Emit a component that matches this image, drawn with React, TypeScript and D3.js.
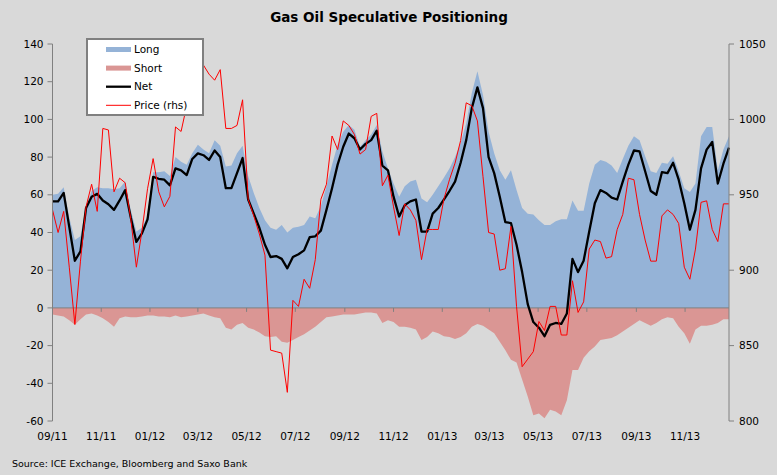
import React from 'react';
import * as d3 from 'd3';

// weekly COT data, first report 2011-09-06
const firstWeek = Date.UTC(2011, 8, 6);

const tickLabels = ['09/11', '11/11', '01/12', '03/12', '05/12', '07/12', '09/12', '11/12', '01/13', '03/13', '05/13', '07/13', '09/13', '11/13'];
const leftTicks = [140, 120, 100, 80, 60, 40, 20, 0, -20, -40, -60];
const rightTicks = [1050, 1000, 950, 900, 850, 800];

const longPos = [
  60, 60.5, 64, 48, 36, 38, 54, 62, 64, 63.5,
  63.5, 63, 63.5, 67, 52, 40.5, 42.5, 49, 72, 72,
  72.5, 70, 80, 77.5, 76, 82, 86.5, 84, 82, 89,
  86, 75, 75.5, 82, 86, 70, 61, 53, 46.5, 42.5,
  41.5, 44, 40, 42.5, 43, 44, 48.5, 47.5, 54, 64.5,
  76, 86.5, 93.5, 97, 94.5, 85.5, 89, 92, 97, 83,
  74, 66, 59, 64.5, 67, 68, 58, 56, 60, 64.5,
  69, 74, 80, 87.5, 98, 114, 125.5, 113, 93.5, 82,
  73, 68, 73, 62.5, 53, 50, 49.5, 46.5, 44, 44,
  46, 47, 47, 57, 51.5, 51.5, 66, 76, 78.5, 77.5,
  75.5, 71.5, 79, 86, 91, 89, 80.5, 72.5, 71.5, 77,
  76.5, 80.5, 72.5, 63.5, 61.5, 66, 91, 96, 96, 73,
  84, 91,
];

const shortPos = [
  -3.5, -4, -4.5, -6.5, -9, -6, -3.5, -3, -4, -5.5,
  -7.5, -10, -5.5, -4.5, -5, -5, -4.5, -4, -4, -4.5,
  -4.5, -5, -4, -5, -4.5, -4, -3.5, -3, -4, -5,
  -5.5, -10.5, -11.5, -9, -8, -10.5, -11.5, -13, -15, -15.5,
  -15, -18, -18.5, -17, -15.5, -14, -12, -10, -7.5, -5,
  -4.5, -4, -3.5, -3.5, -3.5, -3, -2.5, -2.5, -3, -8,
  -6.5, -7.5, -10, -10, -10.5, -11.5, -17, -15.5, -12.5, -13.5,
  -15, -15.5, -16.5, -15.5, -13.5, -10, -8.5, -9.5, -11.5, -13.5,
  -18, -22.5, -27.5, -29, -38, -47, -57, -56, -58.5, -54,
  -55, -57, -49, -33, -33, -26.5, -23, -20.5, -17, -16.5,
  -16, -14.5, -12.5, -10.5, -8.5, -6.5, -8, -9.5, -8, -6,
  -5, -5.5, -10, -13.5, -19, -11.5, -9.5, -9.5, -9, -8,
  -6, -6,
];

const netPos = [
  56.5, 56.5, 61, 43, 25, 30, 53, 59, 60.5, 57,
  55, 52, 57, 62.5, 48, 35, 39.5, 47, 69.5, 68.5,
  68, 65, 74, 73, 70.5, 79, 82, 81, 78.5, 83.5,
  80, 63.5, 63.5, 71.5, 79.5, 57.5, 50, 42.5, 33.5, 27,
  27.5, 26, 21, 27, 28.5, 30.5, 37.5, 38, 41, 52,
  63.5, 76, 85.5, 92.5, 90, 84, 87, 89, 94, 75.5,
  73, 59, 48.5, 54.5, 56.5, 57.5, 40.5, 40.5, 50, 53,
  57.5, 62, 67, 77, 89, 106, 117, 106, 80, 71.5,
  59, 45.5, 45, 33.5, 19, 2, -7.5, -10.5, -15, -9,
  -8, -8.5, -3, 26, 19, 25, 40.5, 55.5, 62.5, 61,
  58.5, 57.5, 67, 76, 83.5, 83, 72.5, 62, 60, 72,
  71.5, 77, 68, 55.5, 41.5, 52, 74, 84, 88, 66,
  76.5, 85,
];

const price = [
  940, 925, 939, 902, 864, 906, 942, 957, 939, 994,
  993, 952, 961, 958, 934, 902, 926, 954, 974, 952,
  942, 949, 995, 992, 1009, 1025, 1037, 1036, 1030, 1026,
  1033, 994, 994, 996, 1013, 947, 936, 924, 910, 847,
  846, 845, 819, 880, 876, 894, 888, 907, 947, 957,
  989, 980, 999, 996, 990, 977, 980, 1002, 1004, 956,
  963, 942, 923, 944, 940, 933, 907, 927, 927, 927,
  947, 960, 971, 986, 1011, 1009, 999, 962, 925, 924,
  900, 901, 929, 876, 836, 841, 846, 866, 860, 876,
  876, 857, 857, 893, 872, 879, 914, 920, 919, 908,
  909, 927, 937, 961, 960, 937, 920, 906, 906, 936,
  940, 937, 931, 902, 894, 914, 945, 946, 927, 919,
  944, 944,
];

const legendItems = [
  { label: 'Long', kind: 'area', color: '#95b3d7' },
  { label: 'Short', kind: 'area', color: '#da9694' },
  { label: 'Net', kind: 'line', color: '#000000' },
  { label: 'Price (rhs)', kind: 'thin', color: '#ff0000' },
];

const W = 777;
const H = 475;
const plot = { left: 52.5, right: 729, top: 44, bottom: 421 };
const font = "'DejaVu Sans', Verdana, sans-serif";

export default function App() {
  const dates = longPos.map((_, i) => d3.utcDay.offset(new Date(firstWeek), 7 * i));
  const x = d3.scaleUtc().domain([dates[0], dates[dates.length - 1]]).range([plot.left, plot.right]);
  const yL = d3.scaleLinear().domain([-60, 140]).range([plot.bottom, plot.top]);
  const yR = d3.scaleLinear().domain([800, 1050]).range([plot.bottom, plot.top]);
  const tickDates = tickLabels.map((_, k) => d3.utcMonth.offset(new Date(firstWeek), 2 * k));

  const area = d3.area<number>()
    .x((_, i) => x(dates[i]))
    .y0(yL(0))
    .y1((d) => yL(d));
  const netLine = d3.line<number>().x((_, i) => x(dates[i])).y((d) => yL(d));
  const priceLine = d3.line<number>().x((_, i) => x(dates[i])).y((d) => yR(d));

  return (
    <div style={{ position: 'absolute', left: 0, top: 0 }}>
      <svg width={W} height={H} style={{ display: 'block', fontFamily: font }}>
        <rect width={W} height={H} fill="#d9d9d9" />
        <text x={389} y={22} textAnchor="middle" fontSize={13.5} fontWeight="bold" fill="#000">
          Gas Oil Speculative Positioning
        </text>

        <path d={area(longPos) || ''} fill="#95b3d7" />
        <path d={area(shortPos) || ''} fill="#da9694" />

        {/* zero line with the date ticks */}
        <line x1={plot.left} x2={plot.right} y1={yL(0)} y2={yL(0)} stroke="#808080" />
        {tickDates.map((d, k) => (
          <line key={k} x1={x(d)} x2={x(d)} y1={yL(0)} y2={yL(0) + 4} stroke="#808080" />
        ))}

        <path d={netLine(netPos) || ''} fill="none" stroke="#000" strokeWidth={2.3} strokeLinejoin="round" />
        <path d={priceLine(price) || ''} fill="none" stroke="#ff0000" strokeWidth={1} />

        {/* left axis */}
        <line x1={plot.left} x2={plot.left} y1={plot.top} y2={plot.bottom} stroke="#808080" />
        {leftTicks.map((t) => (
          <g key={t}>
            <line x1={plot.left - 5} x2={plot.left} y1={yL(t)} y2={yL(t)} stroke="#808080" />
            <text x={plot.left - 9} y={yL(t)} dy="0.35em" textAnchor="end" fontSize={10.5} fill="#000">
              {t}
            </text>
          </g>
        ))}

        {/* right axis */}
        <line x1={plot.right} x2={plot.right} y1={plot.top} y2={plot.bottom} stroke="#808080" />
        {rightTicks.map((t) => (
          <g key={t}>
            <line x1={plot.right} x2={plot.right + 5} y1={yR(t)} y2={yR(t)} stroke="#808080" />
            <text x={plot.right + 10} y={yR(t)} dy="0.35em" textAnchor="start" fontSize={10.5} fill="#000">
              {t}
            </text>
          </g>
        ))}

        {/* date labels */}
        {tickDates.map((d, k) => (
          <text key={k} x={x(d)} y={440} textAnchor="middle" fontSize={10.5} fill="#000">
            {tickLabels[k]}
          </text>
        ))}

        {/* legend */}
        <rect x={87} y={39} width={116} height={76} fill="#fff" stroke="#808080" strokeWidth={2} />
        {legendItems.map((it, k) => {
          const cy = 49.5 + k * 18.6;
          return (
            <g key={it.label}>
              {it.kind === 'area' ? (
                <rect x={106} y={cy - 2.5} width={25} height={5} fill={it.color} />
              ) : (
                <line x1={106} x2={131} y1={cy} y2={cy} stroke={it.color} strokeWidth={it.kind === 'line' ? 2.3 : 1} />
              )}
              <text x={134} y={cy} dy="0.35em" fontSize={10.5} fill="#000">
                {it.label}
              </text>
            </g>
          );
        })}

        <text x={12} y={467} fontSize={9.5} fill="#000">
          Source: ICE Exchange, Bloomberg and Saxo Bank
        </text>
      </svg>
    </div>
  );
}
